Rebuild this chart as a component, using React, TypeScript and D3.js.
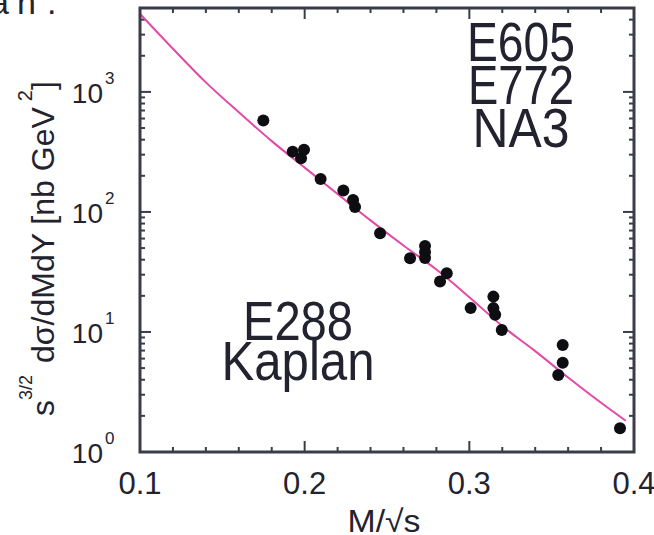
import React from "react";
import * as d3 from "d3";

// ---- data ----
const pointX = [0.1749, 0.1927, 0.1996, 0.1978, 0.2097, 0.2235, 0.2294, 0.2306, 0.2458, 0.264, 0.2731, 0.2731, 0.2731, 0.2863, 0.2822, 0.3008, 0.3146, 0.3146, 0.3157, 0.3197, 0.3567, 0.3567, 0.354, 0.3915];
const pointY = [577, 318, 329, 280, 188, 151, 126, 110, 66.5, 41.1, 52.1, 46.4, 41.4, 30.9, 26.3, 15.8, 19.7, 15.8, 13.9, 10.4, 7.8, 5.55, 4.38, 1.58];

const fitX = [0.1, 0.12, 0.14, 0.16, 0.18, 0.2, 0.22, 0.24, 0.26, 0.28, 0.3, 0.32, 0.34, 0.36, 0.38, 0.395];
const fitY = [4470, 2290, 1200, 676, 389, 234, 141, 85.1, 52.5, 33.1, 19.5, 11.2, 6.92, 4.17, 2.57, 1.82];

const xTickLabels = ["0.1", "0.2", "0.3", "0.4"];
const xTickValues = [0.1, 0.2, 0.3, 0.4];
const yDecades = [0, 1, 2, 3];
const topLabels = ["E605", "E772", "NA3"];
const bottomLabels = ["E288", "Kaplan"];

const FONT = "'Liberation Sans', Arial, Helvetica, sans-serif";
const INK = "#23232f";
const FRAME = "#3a3c4a";

export default function App() {
  const L = 140, R = 634, T = 8, B = 452;
  const x = d3.scaleLinear().domain([0.1, 0.4]).range([L, R]);
  const y = d3.scaleLog().domain([1, 5000]).range([B, T]);

  const xMinor = d3.range(0.12, 0.3999, 0.02).filter((v) => Math.abs(v - 0.2) > 1e-6 && Math.abs(v - 0.3) > 1e-6);
  const xMajor = [0.2, 0.3];
  const yMinor: number[] = [];
  yDecades.forEach((k) => {
    for (let m = 2; m <= 9; m++) {
      const v = m * Math.pow(10, k);
      if (v < 5000) yMinor.push(v);
    }
  });
  const yMajor = [10, 100, 1000];

  const line = d3
    .line<number>()
    .x((_, i) => x(fitX[i]))
    .y((d) => y(d))
    .curve(d3.curveMonotoneX);

  const minorLen = 5, majorLen = 11;

  const topLens = [108, 106, 97];
  const topBase = [61, 104, 147];
  const botLens = [110, 153];
  const botBase = [340, 380];

  return (
    <svg width={654} height={535} style={{ display: "block", position: "absolute", left: 0, top: 0 }}>
      <rect x={0} y={0} width={654} height={535} fill="#fff" />
      {/* fragment of caption text above */}
      <g fontFamily={FONT} fontSize={34} fill={INK}>
        <text x={9} y={14} textAnchor="end">a</text>
        <text x={17} y={14}>n</text>
        <text x={47} y={14}>.</text>
      </g>

      {/* ticks */}
      <g stroke={FRAME} strokeWidth={2}>
        {xMinor.map((v, i) => (
          <g key={"xm" + i}>
            <line x1={x(v)} x2={x(v)} y1={B} y2={B - minorLen} />
            <line x1={x(v)} x2={x(v)} y1={T} y2={T + minorLen} />
          </g>
        ))}
        {xMajor.map((v, i) => (
          <g key={"xM" + i}>
            <line x1={x(v)} x2={x(v)} y1={B} y2={B - majorLen} />
            <line x1={x(v)} x2={x(v)} y1={T} y2={T + majorLen} />
          </g>
        ))}
        {yMinor.map((v, i) => (
          <g key={"ym" + i}>
            <line x1={L} x2={L + minorLen} y1={y(v)} y2={y(v)} />
            <line x1={R} x2={R - minorLen} y1={y(v)} y2={y(v)} />
          </g>
        ))}
        {yMajor.map((v, i) => (
          <g key={"yM" + i}>
            <line x1={L} x2={L + majorLen} y1={y(v)} y2={y(v)} />
            <line x1={R} x2={R - majorLen} y1={y(v)} y2={y(v)} />
          </g>
        ))}
      </g>

      {/* fit curve */}
      <path d={line(fitY) || ""} fill="none" stroke="#e24aa6" strokeWidth={2} />

      {/* data points */}
      <g fill="#0d0d12">
        {pointX.map((px, i) => (
          <circle key={i} cx={x(px)} cy={y(pointY[i])} r={6} />
        ))}
      </g>

      {/* frame */}
      <rect x={L} y={T} width={R - L} height={B - T} fill="none" stroke={FRAME} strokeWidth={3} />

      {/* x tick labels */}
      <g fontFamily={FONT} fontSize={31} fill={INK} textAnchor="middle">
        {xTickValues.map((v, i) => (
          <text key={i} x={x(v)} y={494}>{xTickLabels[i]}</text>
        ))}
        <text x={384} y={532} textLength={73} lengthAdjust="spacingAndGlyphs">M/√s</text>
      </g>

      {/* y tick labels */}
      <g fontFamily={FONT} fill={INK}>
        {yDecades.map((k) => {
          const py = y(Math.pow(10, k));
          return (
            <g key={k}>
              <text x={103} y={py + 11} fontSize={28} textAnchor="end">10</text>
              <text x={105} y={py - 8} fontSize={17}>{String(k)}</text>
            </g>
          );
        })}
      </g>

      {/* y axis title */}
      <text transform="translate(54,416) rotate(-90)" fontFamily={FONT} fontSize={32} fill={INK}>
        <tspan>s</tspan>
        <tspan fontSize={18} dy={-22}>3/2</tspan>
        <tspan dx={12} dy={22}>dσ/dMdY [nb GeV</tspan>
        <tspan fontSize={20} dx={6} dy={-22}>2</tspan>
        <tspan dy={22}>]</tspan>
      </text>

      {/* experiment labels */}
      <g fontFamily={FONT} fontSize={55} fill={INK} textAnchor="middle">
        {topLabels.map((t, i) => (
          <text key={t} x={521} y={topBase[i]} textLength={topLens[i]} lengthAdjust="spacingAndGlyphs">{t}</text>
        ))}
        {bottomLabels.map((t, i) => (
          <text key={t} x={298} y={botBase[i]} textLength={botLens[i]} lengthAdjust="spacingAndGlyphs">{t}</text>
        ))}
      </g>
    </svg>
  );
}
